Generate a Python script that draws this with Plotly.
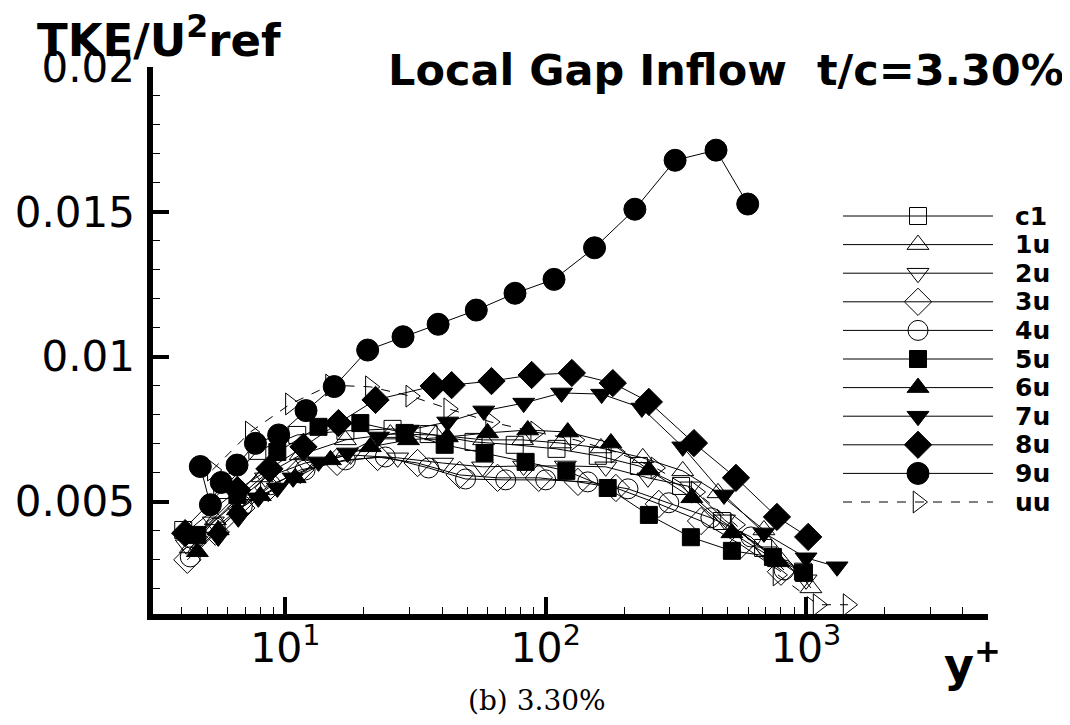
import math
import plotly.graph_objects as go

# ---------------- data (y+ , TKE/U^2ref) ----------------
c1_x = [4.05, 5.72, 7.80, 11.1, 17.0, 25.8, 35.5, 52.8, 76.0, 110, 158.5, 228, 331, 475, 684, 973]
c1_y = [0.00402, 0.00540, 0.00675, 0.00730, 0.00744, 0.00751, 0.00733, 0.00706, 0.00696, 0.00682, 0.00658, 0.00623, 0.00554, 0.00433, 0.00340, 0.00258]

u1_x = [4.31, 5.38, 6.77, 8.15, 11.4, 17.0, 25.3, 37.8, 57.7, 81.5, 114, 163, 236, 336, 459, 689, 1044]
u1_y = [0.00340, 0.00437, 0.00523, 0.00585, 0.00661, 0.00713, 0.00733, 0.00730, 0.00713, 0.00713, 0.00702, 0.00685, 0.00651, 0.00606, 0.00530, 0.00402, 0.00202]

u2_x = [4.16, 5.29, 6.71, 8.38, 11.9, 17.8, 27.0, 40.2, 57.2, 82.2, 119, 170, 247, 361, 486, 701, 1000]
u2_y = [0.00351, 0.00430, 0.00506, 0.00582, 0.00633, 0.00661, 0.00651, 0.00633, 0.00620, 0.00623, 0.00623, 0.00620, 0.00582, 0.00551, 0.00437, 0.00327, 0.00230]

u3_x = [4.20, 5.38, 6.77, 8.60, 11.4, 15.8, 22.6, 32.2, 46.7, 65.3, 94.0, 133, 186, 272, 395, 562, 801]
u3_y = [0.00299, 0.00396, 0.00478, 0.00547, 0.00609, 0.00637, 0.00654, 0.00633, 0.00592, 0.00582, 0.00582, 0.00568, 0.00547, 0.00492, 0.00433, 0.00351, 0.00258]

u4_x = [4.31, 5.38, 6.83, 8.76, 11.9, 17.0, 24.2, 35.5, 49.2, 70.2, 100, 145, 207, 297, 431, 614, 823]
u4_y = [0.00309, 0.00409, 0.00485, 0.00558, 0.00609, 0.00644, 0.00654, 0.00616, 0.00578, 0.00575, 0.00575, 0.00568, 0.00544, 0.00496, 0.00444, 0.00378, 0.00264]

u5_x = [4.59, 6.54, 9.31, 13.4, 19.4, 28.7, 40.9, 58.2, 83.7, 120, 173, 249, 361, 519, 746, 982]
u5_y = [0.00385, 0.00523, 0.00671, 0.00758, 0.00771, 0.00737, 0.00696, 0.00668, 0.00637, 0.00606, 0.00547, 0.00454, 0.00377, 0.00330, 0.00309, 0.00254]

u6_x = [4.59, 5.52, 6.54, 8.01, 10.9, 14.9, 21.2, 29.7, 41.9, 59.8, 85.3, 121.5, 178, 249, 364, 519, 784]
u6_y = [0.00327, 0.00402, 0.00471, 0.00520, 0.00582, 0.00644, 0.00689, 0.00713, 0.00723, 0.00737, 0.00747, 0.00740, 0.00702, 0.00609, 0.00513, 0.00392, 0.00292]

u7_x = [5.52, 6.59, 7.87, 9.31, 10.7, 13.4, 17.3, 22.8, 29.7, 42.0, 57.8, 82.3, 115, 164, 234, 336, 484, 689, 1000, 1316]
u7_y = [0.00378, 0.00444, 0.00513, 0.00547, 0.00582, 0.00637, 0.00668, 0.00723, 0.00747, 0.00775, 0.00813, 0.00840, 0.00875, 0.00871, 0.00823, 0.00689, 0.00523, 0.00392, 0.00306, 0.00275]

u8_x = [4.12, 6.54, 8.68, 11.73, 15.99, 22.2, 37.1, 43.5, 61.9, 88.3, 126, 181, 249, 371, 538, 773, 1019]
u8_y = [0.00391, 0.00540, 0.00613, 0.00689, 0.00771, 0.00851, 0.00899, 0.00902, 0.00916, 0.00937, 0.00944, 0.00909, 0.00844, 0.00702, 0.00582, 0.00447, 0.00378]

u9_x = [4.71, 5.15, 5.67, 6.52, 7.67, 9.42, 12.0, 15.4, 20.7, 28.3, 38.6, 54.1, 76.2, 107.6, 154, 220, 314, 451, 597]
u9_y = [0.00621, 0.00489, 0.00566, 0.00626, 0.00701, 0.00730, 0.00814, 0.00897, 0.01023, 0.01069, 0.01112, 0.01161, 0.01219, 0.01267, 0.01376, 0.01509, 0.01678, 0.01713, 0.01527]

uu_x = [5.24, 7.33, 10.45, 14.9, 21.2, 30.3, 42.4, 61.4, 91.5, 130, 186, 265, 378, 538, 780, 1112, 1450]
uu_y = [0.00609, 0.00740, 0.00837, 0.00902, 0.00896, 0.00864, 0.00820, 0.00775, 0.00740, 0.00713, 0.00671, 0.00616, 0.00533, 0.00420, 0.00247, 0.00144, 0.00144]

series_names = ["c1", "1u", "2u", "3u", "4u", "5u", "6u", "7u", "8u", "9u", "uu"]
series_x = [c1_x, u1_x, u2_x, u3_x, u4_x, u5_x, u6_x, u7_x, u8_x, u9_x, uu_x]
series_y = [c1_y, u1_y, u2_y, u3_y, u4_y, u5_y, u6_y, u7_y, u8_y, u9_y, uu_y]

x_major = [10, 100, 1000]
x_major_text = ["10<sup>1</sup>", "10<sup>2</sup>", "10<sup>3</sup>"]
x_minor = [4, 5, 6, 7, 8, 9, 20, 30, 40, 50, 60, 70, 80, 90,
           200, 300, 400, 500, 600, 700, 800, 900, 2000, 3000, 4000, 5000]
y_major = [0.005, 0.01, 0.015, 0.02]
y_major_text = ["0.005", "0.01", "0.015", "0.02"]
y_minor = [0.002, 0.003, 0.004, 0.006, 0.007, 0.008, 0.009,
           0.011, 0.012, 0.013, 0.014, 0.016, 0.017, 0.018, 0.019]

# ---------------- styles ----------------
symbols = ["square-open", "triangle-up-open", "triangle-down-open", "diamond-open",
           "circle-open", "square", "triangle-up", "triangle-down", "diamond",
           "circle", "triangle-right-open"]
sizes = [17, 19, 19, 21, 20, 17, 19, 19, 21, 22, 19]
dashes = ["solid"] * 10 + ["dash"]

# The page body adds an 8 px offset, so the figure is 8 px smaller than the window
OFF = 8
W, H = 1070 - OFF, 725 - OFF
# plot area in window pixels
P_L, P_R, P_T, P_B = 153, 988, 67, 614
ML, MT = P_L - OFF, P_T - OFF
MR = W - (P_R - OFF)
MB = H - (P_B - OFF)
PW, PH = P_R - P_L, P_B - P_T


def px_to_paper_x(px):
    return (px - P_L) / PW


def py_to_paper_y(py):
    return (P_B - py) / PH


FONT = "DejaVu Sans"

fig = go.Figure()
for name, xs, ys, sym, sz, ds in zip(series_names, series_x, series_y, symbols, sizes, dashes):
    fig.add_trace(go.Scatter(
        x=xs, y=ys, mode="lines+markers", name=name,
        line=dict(color="black", width=1, dash=ds),
        marker=dict(symbol=sym, size=sz, color="black", line=dict(color="black", width=1)),
        showlegend=False, cliponaxis=False, xaxis="x", yaxis="y"))

# invisible trace carrying the major-tick overlay axes
fig.add_trace(go.Scatter(x=[10], y=[0.01], mode="markers", marker=dict(opacity=0),
                         xaxis="x3", yaxis="y3", showlegend=False, hoverinfo="skip"))

# ---------------- manual legend ----------------
leg_line_x0, leg_line_x1, leg_mark_x, leg_text_x = 843, 993, 918, 1013
leg_row0, leg_dy = 216, 28.6
shapes = []
annotations = []
for i, (name, sym, sz, ds) in enumerate(zip(series_names, symbols, sizes, dashes)):
    yp = py_to_paper_y(leg_row0 + i * leg_dy)
    shapes.append(dict(type="line", xref="paper", yref="paper",
                       x0=px_to_paper_x(leg_line_x0), x1=px_to_paper_x(leg_line_x1),
                       y0=yp, y1=yp, line=dict(color="black", width=1, dash=ds)))
    fig.add_trace(go.Scatter(x=[px_to_paper_x(leg_mark_x)], y=[yp], mode="markers",
                             marker=dict(symbol=sym, size=sz, color="black",
                                         line=dict(color="black", width=1)),
                             xaxis="x2", yaxis="y2", showlegend=False, cliponaxis=False,
                             hoverinfo="skip"))
    annotations.append(dict(text=name, xref="paper", yref="paper",
                            x=px_to_paper_x(leg_text_x), y=yp, xanchor="left", yanchor="middle",
                            showarrow=False, font=dict(family=FONT, size=25, color="black", weight="bold")))

# titles / labels
annotations.append(dict(text="TKE/U<sup>2</sup>ref", xref="paper", yref="paper",
                        x=px_to_paper_x(35), y=py_to_paper_y(37), xanchor="left", yanchor="middle",
                        showarrow=False, font=dict(family=FONT, size=45, color="black", weight="bold")))
annotations.append(dict(text="Local Gap Inflow\u00a0\u00a0t/c=3.30%", xref="paper", yref="paper",
                        x=px_to_paper_x(1066), y=py_to_paper_y(70), xanchor="right", yanchor="middle",
                        showarrow=False, font=dict(family=FONT, size=43, color="black", weight="bold")))
annotations.append(dict(text="y<sup>+</sup>", xref="paper", yref="paper",
                        x=px_to_paper_x(972), y=py_to_paper_y(662), xanchor="center", yanchor="middle",
                        showarrow=False, font=dict(family=FONT, size=46, color="black", weight="bold")))
annotations.append(dict(text="(b) 3.30%", xref="paper", yref="paper",
                        x=px_to_paper_x(537), y=py_to_paper_y(700), xanchor="center", yanchor="middle",
                        showarrow=False, font=dict(family="DejaVu Serif", size=28, color="black")))

xr = [math.log10(3.1), math.log10(5000)]
yr = [0.00112, 0.02]

fig.update_layout(
    width=W, height=H,
    margin=dict(l=ML, r=MR, t=MT, b=MB, autoexpand=False),
    paper_bgcolor="white", plot_bgcolor="white",
    showlegend=False,
    xaxis=dict(type="log", range=xr, tickmode="array", tickvals=x_minor,
               ticks="inside", ticklen=7, tickwidth=1, tickcolor="black",
               showticklabels=False, showline=True, linewidth=6, linecolor="black",
               showgrid=False, zeroline=False, automargin=False),
    yaxis=dict(range=yr, tickmode="array", tickvals=y_minor,
               ticks="inside", ticklen=7, tickwidth=1, tickcolor="black",
               showticklabels=False, showline=True, linewidth=6, linecolor="black",
               showgrid=False, zeroline=False, automargin=False),
    xaxis3=dict(type="log", range=xr, overlaying="x", anchor="y3", side="bottom",
                tickmode="array", tickvals=x_major, ticktext=x_major_text,
                ticks="inside", ticklen=17, tickwidth=4, tickcolor="black",
                showline=False, showgrid=False, zeroline=False, ticklabelstandoff=6,
                automargin=False,
                tickfont=dict(family=FONT, size=41, color="black")),
    yaxis3=dict(range=yr, overlaying="y", anchor="x3", side="left",
                tickmode="array", tickvals=y_major, ticktext=y_major_text,
                ticks="inside", ticklen=16, tickwidth=4, tickcolor="black",
                showline=False, showgrid=False, zeroline=False, ticklabelstandoff=17,
                automargin=False,
                tickfont=dict(family=FONT, size=42, color="black")),
    xaxis2=dict(range=[0, 1], overlaying="x", anchor="y2", visible=False, automargin=False),
    yaxis2=dict(range=[0, 1], overlaying="y", anchor="x2", visible=False, automargin=False),
    shapes=shapes,
    annotations=annotations,
)

fig.write_html("out.html")
